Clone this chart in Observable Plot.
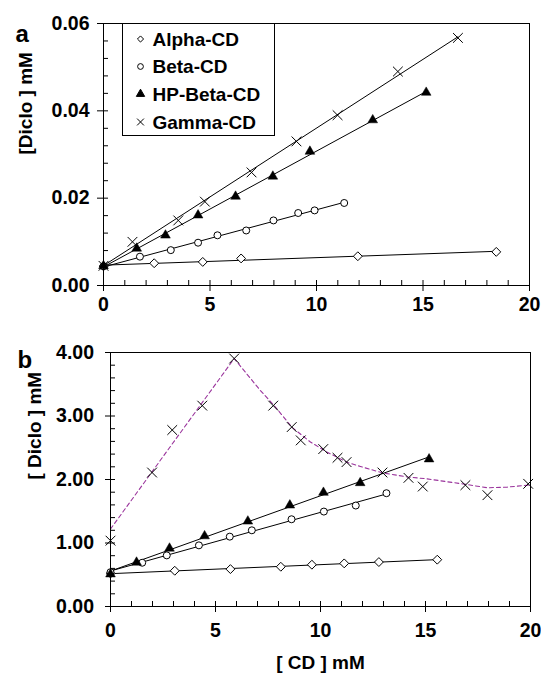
<!DOCTYPE html>
<html><head><meta charset="utf-8">
<script src="https://cdn.jsdelivr.net/npm/d3@7"></script>
<script src="https://cdn.jsdelivr.net/npm/@observablehq/plot@0.6"></script>
<style>
body{margin:0;background:#fff;}
#wrap{position:relative;width:541px;height:676px;font-family:"Liberation Sans",Arial,Helvetica,sans-serif;font-weight:bold;}
#wrap svg{display:block}
#legend{position:absolute;left:122px;top:23px;}
</style></head>
<body><div id="wrap"></div>
<script>
// ---------- Panel a data ----------
const alphaA_x = [0, 2.38, 4.66, 6.46, 11.94, 18.44];
const alphaA_y = [0.0044, 0.0051, 0.0054, 0.0062, 0.0067, 0.0077];
const betaA_x = [0, 1.71, 3.16, 4.44, 5.35, 6.70, 7.98, 9.14, 9.91, 11.30];
const betaA_y = [0.0044, 0.0066, 0.0081, 0.0098, 0.0115, 0.0126, 0.0149, 0.0166, 0.0172, 0.0189];
const hpA_x = [0, 1.56, 2.91, 4.44, 6.20, 7.95, 9.69, 12.64, 15.15];
const hpA_y = [0.0045, 0.0085, 0.0115, 0.0161, 0.0204, 0.0250, 0.0307, 0.0379, 0.0442];
const gammaA_x = [0, 1.36, 3.51, 4.76, 6.95, 9.06, 10.99, 13.82, 16.64];
const gammaA_y = [0.0045, 0.0100, 0.0149, 0.0192, 0.0259, 0.0330, 0.0390, 0.0490, 0.0567];

// ---------- Panel b data ----------
const alphaB_x = [0, 3.06, 5.71, 8.11, 9.59, 11.13, 12.78, 15.56];
const alphaB_y = [0.52, 0.563, 0.589, 0.626, 0.658, 0.679, 0.70, 0.737];
const betaB_x = [0, 1.51, 2.68, 4.21, 5.68, 6.73, 8.62, 10.16, 11.68, 13.14];
const betaB_y = [0.54, 0.689, 0.805, 0.963, 1.10, 1.20, 1.374, 1.495, 1.59, 1.784];
const hpB_x = [0, 1.24, 2.81, 4.48, 6.54, 8.54, 10.14, 11.89, 15.17];
const hpB_y = [0.51, 0.695, 0.916, 1.11, 1.342, 1.595, 1.795, 1.947, 2.321];
const gammaB_x = [0, 1.98, 2.94, 4.37, 5.89, 7.75, 8.63, 9.06, 10.13, 10.81, 11.24, 12.95, 14.19, 14.87, 16.90, 17.95, 19.89];
const gammaB_y = [1.037, 2.11, 2.779, 3.163, 3.905, 3.163, 2.826, 2.616, 2.479, 2.342, 2.274, 2.11, 2.026, 1.889, 1.911, 1.753, 1.932];
// dashed fitted curve for Gamma-CD (panel b)
const gammaFit_x = [0, 5.89, 7.14, 7.78, 8.65, 9.52, 10.32, 11.27, 11.9, 12.94, 14.13, 15.08, 16.98, 17.94, 18.89, 20];
const gammaFit_y = [1.22, 3.905, 3.40, 3.17, 2.82, 2.59, 2.43, 2.27, 2.205, 2.105, 2.04, 2.01, 1.92, 1.87, 1.88, 1.915];

// ---------- labels / ticks ----------
const seriesNames = ["Alpha-CD", "Beta-CD", "HP-Beta-CD", "Gamma-CD"];
const xTicks = [0, 5, 10, 15, 20];
const yTicksA = [0, 0.02, 0.04, 0.06];
const yTicksB = [0, 1, 2, 3, 4];
const yTitleA = "[Diclo ] mM";
const yTitleB = "[ Diclo ] mM";
const xTitle = "[ CD ] mM";

const rows = (xs, ys) => xs.map((x, i) => ({x, y: ys[i]}));
const FONT = '"Liberation Sans", Arial, Helvetica, sans-serif';
const W = 541;

function seriesMarks(a, b, h, g, withGammaReg) {
  const marks = [
    Plot.linearRegressionY(a, {x: "x", y: "y", ci: 0, stroke: "black", strokeWidth: 1}),
    Plot.linearRegressionY(b, {x: "x", y: "y", ci: 0, stroke: "black", strokeWidth: 1}),
    Plot.linearRegressionY(h, {x: "x", y: "y", ci: 0, stroke: "black", strokeWidth: 1})
  ];
  if (withGammaReg) marks.push(Plot.linearRegressionY(g, {x: "x", y: "y", ci: 0, stroke: "black", strokeWidth: 1}));
  return marks;
}
function dotMarks(a, b, h, g) {
  return [
    Plot.dot(a, {x: "x", y: "y", symbol: "diamond2", r: 4, stroke: "black", fill: "white", strokeWidth: 1}),
    Plot.dot(b, {x: "x", y: "y", symbol: "circle", r: 3.5, stroke: "black", fill: "white", strokeWidth: 1}),
    Plot.dot(h, {x: "x", y: "y", symbol: "triangle", r: 3.6, fill: "black", stroke: "black", strokeWidth: 0.5}),
    Plot.dot(g, {x: "x", y: "y", symbol: "times", r: 4.5, stroke: "black", strokeWidth: 1})
  ];
}
function axisMarks(o) {
  const plotW = W - o.ml - o.mr, plotH = o.height - o.mt - o.mb;
  const yMinor = d3.range(0, o.yMax + o.yStep / 2, o.yStep);
  const xMinor = d3.range(0, 21, 1);
  return [
    Plot.frame({stroke: "black", strokeWidth: 1}),
    Plot.tickY(yMinor, {y: d => d, insetRight: plotW - 5, stroke: "black", strokeWidth: 1}),
    Plot.tickX(xMinor, {x: d => d, insetTop: plotH - 5, stroke: "black", strokeWidth: 1}),
    Plot.axisY(o.yTicks, {tickSize: o.yTickSize, tickPadding: o.yPad, tickFormat: d3.format(".2f"), label: null, fontSize: 19.5, fontWeight: "bold"}),
    Plot.axisX(xTicks, {tickSize: 6, tickPadding: o.xPad, tickFormat: d3.format("d"), label: null, fontSize: 19.5, fontWeight: "bold"}),
    Plot.text([o.yTitle], {frameAnchor: "left", dx: o.yTitleDx, rotate: -90, fontSize: 19, fontWeight: "bold", fill: "black"}),
    Plot.text([o.letter], {frameAnchor: "top-left", dx: o.letterDx, dy: o.letterDy, textAnchor: "start", fontSize: 24, fontWeight: "bold", fill: "black"})
  ];
}

const A = {alpha: rows(alphaA_x, alphaA_y), beta: rows(betaA_x, betaA_y), hp: rows(hpA_x, hpA_y), gamma: rows(gammaA_x, gammaA_y)};
const B = {alpha: rows(alphaB_x, alphaB_y), beta: rows(betaB_x, betaB_y), hp: rows(hpB_x, hpB_y), gamma: rows(gammaB_x, gammaB_y)};
const fitB = rows(gammaFit_x, gammaFit_y);

const oa = {height: 315, mt: 23, mb: 30, ml: 103, mr: 12, yMax: 0.06, yStep: 0.004, yTicks: yTicksA, yTickSize: 6, yPad: 8, xPad: 6, yTitle: yTitleA, yTitleDx: -78, letter: "a", letterDx: -88, letterDy: 1};
const plotA = Plot.plot({
  width: W, height: oa.height, marginTop: oa.mt, marginBottom: oa.mb, marginLeft: oa.ml, marginRight: oa.mr,
  style: {fontFamily: FONT, fontSize: "19px", fontWeight: "bold", color: "black", background: "white", overflow: "visible"},
  x: {domain: [0, 20]}, y: {domain: [0, 0.06]},
  marks: [
    ...seriesMarks(A.alpha, A.beta, A.hp, A.gamma, true),
    ...dotMarks(A.alpha, A.beta, A.hp, A.gamma),
    ...axisMarks(oa)
  ]
});

const ob = {height: 361, mt: 37, mb: 70, ml: 110, mr: 11, yMax: 4, yStep: 0.2, yTicks: yTicksB, yTickSize: 5, yPad: 11.5, xPad: 11, yTitle: yTitleB, yTitleDx: -76, letter: "b", letterDx: -93, letterDy: -2};
const plotB = Plot.plot({
  width: W, height: ob.height, marginTop: ob.mt, marginBottom: ob.mb, marginLeft: ob.ml, marginRight: ob.mr,
  style: {fontFamily: FONT, fontSize: "19px", fontWeight: "bold", color: "black", background: "white", overflow: "visible"},
  x: {domain: [0, 20]}, y: {domain: [0, 4]},
  marks: [
    Plot.line(fitB, {x: "x", y: "y", stroke: "#9a349c", strokeWidth: 1.1, strokeDasharray: "4,3"}),
    ...seriesMarks(B.alpha, B.beta, B.hp, B.gamma, false),
    ...dotMarks(B.alpha, B.beta, B.hp, B.gamma),
    ...axisMarks(ob),
    Plot.text([xTitle], {frameAnchor: "bottom", dy: 62, fontSize: 19, fontWeight: "bold", fill: "black"})
  ]
});

const wrap = document.getElementById("wrap");
wrap.appendChild(plotA);
wrap.appendChild(plotB);

// ---------- legend (panel a) ----------
const lw = 153, lh = 113;
const leg = d3.create("svg").attr("id", "legend").attr("width", lw).attr("height", lh)
  .style("font-family", FONT).style("font-weight", "bold").style("font-size", "19px");
leg.append("rect").attr("x", 0.5).attr("y", 0.5).attr("width", lw - 1).attr("height", lh - 1)
  .attr("fill", "white").attr("stroke", "black");
const legSym = [
  {t: d3.symbolDiamond2, size: 24, fill: "white", stroke: "black"},
  {t: d3.symbolCircle, size: 26, fill: "white", stroke: "black"},
  {t: d3.symbolTriangle, size: 30, fill: "black", stroke: "black"},
  {t: d3.symbolTimes, size: 32, fill: "none", stroke: "black"}
];
const rowY = [16, 43.5, 71, 99];
seriesNames.forEach((name, i) => {
  const s = legSym[i];
  leg.append("path").attr("d", d3.symbol(s.t, s.size)()).attr("transform", `translate(18.5,${rowY[i]})`)
    .attr("fill", s.fill).attr("stroke", s.stroke).attr("stroke-width", 1);
  leg.append("text").attr("x", 30.5).attr("y", rowY[i]).attr("dy", "0.35em").attr("fill", "black").text(name);
});
wrap.appendChild(leg.node());
</script>
</body></html>
